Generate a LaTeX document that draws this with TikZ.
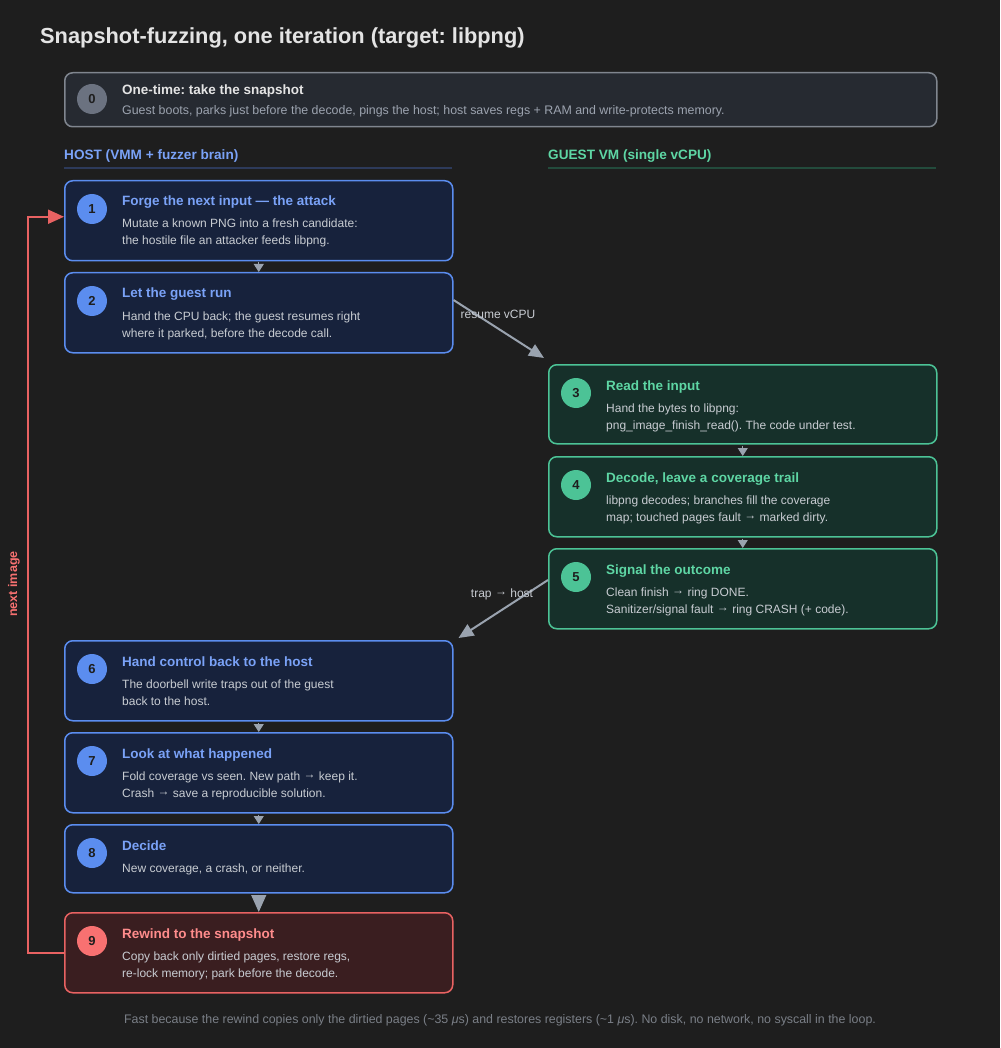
\documentclass[tikz,border=0pt]{standalone}
\usepackage{fontspec}
\setmainfont{Liberation Sans}
\usetikzlibrary{arrows.meta,calc}
\frenchspacing
\definecolor{bg}{HTML}{1E1E1E}
\definecolor{ttl}{HTML}{E4E4E4}
\definecolor{zfill}{HTML}{262A31}
\definecolor{zdraw}{HTML}{80868F}
\definecolor{zcirc}{HTML}{6B7280}
\definecolor{hfill}{HTML}{17223C}
\definecolor{hdraw}{HTML}{5B8DEF}
\definecolor{htext}{HTML}{7AA2F7}
\definecolor{gfill}{HTML}{16302A}
\definecolor{gdraw}{HTML}{4CC396}
\definecolor{gtext}{HTML}{5ED6A4}
\definecolor{rfill}{HTML}{3A1E20}
\definecolor{rdraw}{HTML}{E86262}
\definecolor{rtext}{HTML}{FF8C8C}
\definecolor{rcirc}{HTML}{F87171}
\definecolor{body}{HTML}{C8CCD2}
\definecolor{muted}{HTML}{9CA3AF}
\definecolor{foot}{HTML}{7A7F87}
\definecolor{arr}{HTML}{9AA3AF}
\definecolor{hline}{HTML}{2D3A5A}
\definecolor{gline}{HTML}{234B3C}
\newcommand\ra{\raisebox{0.22ex}{→}}
\tikzset{
  x=1pt,y=-1pt,
  boxbase/.style={rectangle,rounded corners=8pt,line width=1.5pt,inner sep=0pt,anchor=north west,minimum width=388pt},
  hostbox/.style={boxbase,fill=hfill,draw=hdraw},
  guestbox/.style={boxbase,fill=gfill,draw=gdraw},
  redbox/.style={boxbase,fill=rfill,draw=rdraw},
  numcirc/.style={circle,minimum size=30pt,inner sep=0pt,font=\fontsize{13}{15}\selectfont\bfseries,text=bg},
  bxtitle/.style={anchor=base west,inner sep=0pt,font=\fontsize{13.5}{16}\selectfont\bfseries},
  bxbody/.style={anchor=base west,inner sep=0pt,font=\fontsize{12}{14}\selectfont,text=body},
  lbl/.style={inner sep=0pt,font=\fontsize{12}{14}\selectfont,text=body},
  smallarr/.style={arr,line width=1pt,-{Triangle[width=10pt,length=8pt]}},
  crossarr/.style={arr,line width=2pt,-{Triangle[width=13pt,length=15pt]}},
}
\newcommand\mystep[9]{%
  \node[#5,minimum height=#4pt] (#1) at (#2,#3) {};
  \node[numcirc,fill=#6] (#1c) at (92,#3+29) {#7};
  \node[bxtitle,text=#8] (#1t) at (122,#3+26) {#9};
}
\begin{document}
\begin{tikzpicture}
\fill[bg] (0,0) rectangle (1000,1048);
\useasboundingbox (0,0) rectangle (1000,1048);
\node[anchor=base west,inner sep=0pt,font=\fontsize{21.8}{26}\selectfont\bfseries,text=ttl] (title) at (40,44) {Snapshot-fuzzing, one iteration (target: libpng)};
% step 0
\node[boxbase,minimum width=872pt,minimum height=54pt,fill=zfill,draw=zdraw] (b0) at (64,72) {};
\node[numcirc,fill=zcirc] (b0c) at (92,99) {0};
\node[bxtitle,text=ttl] (b0t) at (122,95) {One-time: take the snapshot};
\node[bxbody,text=muted,font=\fontsize{12.4}{14}\selectfont] (b0a) at (122,115) {Guest boots, parks just before the decode, pings the host; host saves regs + RAM and write-protects memory.};
% section headers
\node[anchor=base west,inner sep=0pt,font=\fontsize{13.6}{15}\selectfont\bfseries,text=htext] (hhost) at (64,160) {HOST (VMM + fuzzer brain)};
\node[anchor=base west,inner sep=0pt,font=\fontsize{13.6}{15}\selectfont\bfseries,text=gtext] (hguest) at (548,160) {GUEST VM (single vCPU)};
\draw[hline,line width=1.2pt] (64,168) -- (452,168);
\draw[gline,line width=1.2pt] (548,168) -- (936,168);
% host steps
\mystep{b1}{64}{180}{80}{hostbox}{hdraw}{1}{htext}{Forge the next input — the attack}
\node[bxbody] (b1a) at (122,228) {Mutate a known PNG into a fresh candidate:};
\node[bxbody] (b1b) at (122,245) {the hostile file an attacker feeds libpng.};
\mystep{b2}{64}{272}{80}{hostbox}{hdraw}{2}{htext}{Let the guest run}
\node[bxbody] (b2a) at (122,320) {Hand the CPU back; the guest resumes right};
\node[bxbody] (b2b) at (122,337) {where it parked, before the decode call.};
% guest steps
\node[guestbox,minimum height=79pt] (b3) at (548,364) {};
\node[numcirc,fill=gdraw] (b3c) at (576,393) {3};
\node[bxtitle,text=gtext] (b3t) at (606,390) {Read the input};
\node[bxbody] (b3a) at (606,412) {Hand the bytes to libpng:};
\node[bxbody] (b3b) at (606,429) {png\_image\_finish\_read(). The code under test.};
\node[guestbox,minimum height=80pt] (b4) at (548,456) {};
\node[numcirc,fill=gdraw] (b4c) at (576,485) {4};
\node[bxtitle,text=gtext] (b4t) at (606,482) {Decode, leave a coverage trail};
\node[bxbody] (b4a) at (606,504) {libpng decodes; branches fill the coverage};
\node[bxbody] (b4b) at (606,521) {map; touched pages fault \ra{} marked dirty.};
\node[guestbox,minimum height=80pt] (b5) at (548,548) {};
\node[numcirc,fill=gdraw] (b5c) at (576,577) {5};
\node[bxtitle,text=gtext] (b5t) at (606,574) {Signal the outcome};
\node[bxbody] (b5a) at (606,596) {Clean finish \ra{} ring DONE.};
\node[bxbody] (b5b) at (606,613) {Sanitizer/signal fault \ra{} ring CRASH (+ code).};
% host again
\mystep{b6}{64}{640}{80}{hostbox}{hdraw}{6}{htext}{Hand control back to the host}
\node[bxbody] (b6a) at (122,688) {The doorbell write traps out of the guest};
\node[bxbody] (b6b) at (122,705) {back to the host.};
\mystep{b7}{64}{732}{80}{hostbox}{hdraw}{7}{htext}{Look at what happened}
\node[bxbody] (b7a) at (122,780) {Fold coverage vs seen. New path \ra{} keep it.};
\node[bxbody] (b7b) at (122,797) {Crash \ra{} save a reproducible solution.};
\mystep{b8}{64}{824}{68}{hostbox}{hdraw}{8}{htext}{Decide}
\node[bxbody] (b8a) at (122,872) {New coverage, a crash, or neither.};
\mystep{b9}{64}{912}{80}{redbox}{rcirc}{9}{rtext}{Rewind to the snapshot}
\node[bxbody] (b9a) at (122,960) {Copy back only dirtied pages, restore regs,};
\node[bxbody] (b9b) at (122,977) {re-lock memory; park before the decode.};
% vertical arrows
\draw[smallarr] ([yshift=-1pt]b1.south) -- (b2.north);
\draw[smallarr] ([yshift=-1pt]b3.south) -- (b4.north);
\draw[smallarr] ([yshift=-1pt]b4.south) -- (b5.north);
\draw[smallarr] ([yshift=-1pt]b6.south) -- (b7.north);
\draw[smallarr] ([yshift=-1pt]b7.south) -- (b8.north);
\draw[arr,line width=1pt,-{Triangle[width=15pt,length=17pt]}] ([yshift=-1pt]b8.south) -- (b9.north);
% cross arrows
\draw[crossarr] ($(b2.north east)+(0,28)$) -- ($(b3.north west)+(-4,-6)$);
\node[lbl] (l23) at (498,314) {resume vCPU};
\draw[crossarr] ($(b5.north west)+(0,32)$) -- ($(b6.north east)+(5,-2)$);
\node[lbl] (l56) at (502,594) {trap \ra{} host};
% loop back
\coordinate (lt) at ($(b1.west)+(0,-4)$);
\draw[rdraw,line width=2pt,-{Triangle[width=14pt,length=16pt]}] (b9.west) -- ++(-36,0) |- (lt);
\node[rotate=90,inner sep=0pt,font=\fontsize{12.5}{14}\selectfont\bfseries,text=rcirc] (loopl) at (14,584) {next image};
% footer
\node[inner sep=0pt,font=\fontsize{12.4}{14}\selectfont,text=foot] (foot) at (500,1020) {Fast because the rewind copies only the dirtied pages (\textasciitilde35 \textit{μ}s) and restores registers (\textasciitilde1 \textit{μ}s). No disk, no network, no syscall in the loop.};
\end{tikzpicture}
\end{document}
